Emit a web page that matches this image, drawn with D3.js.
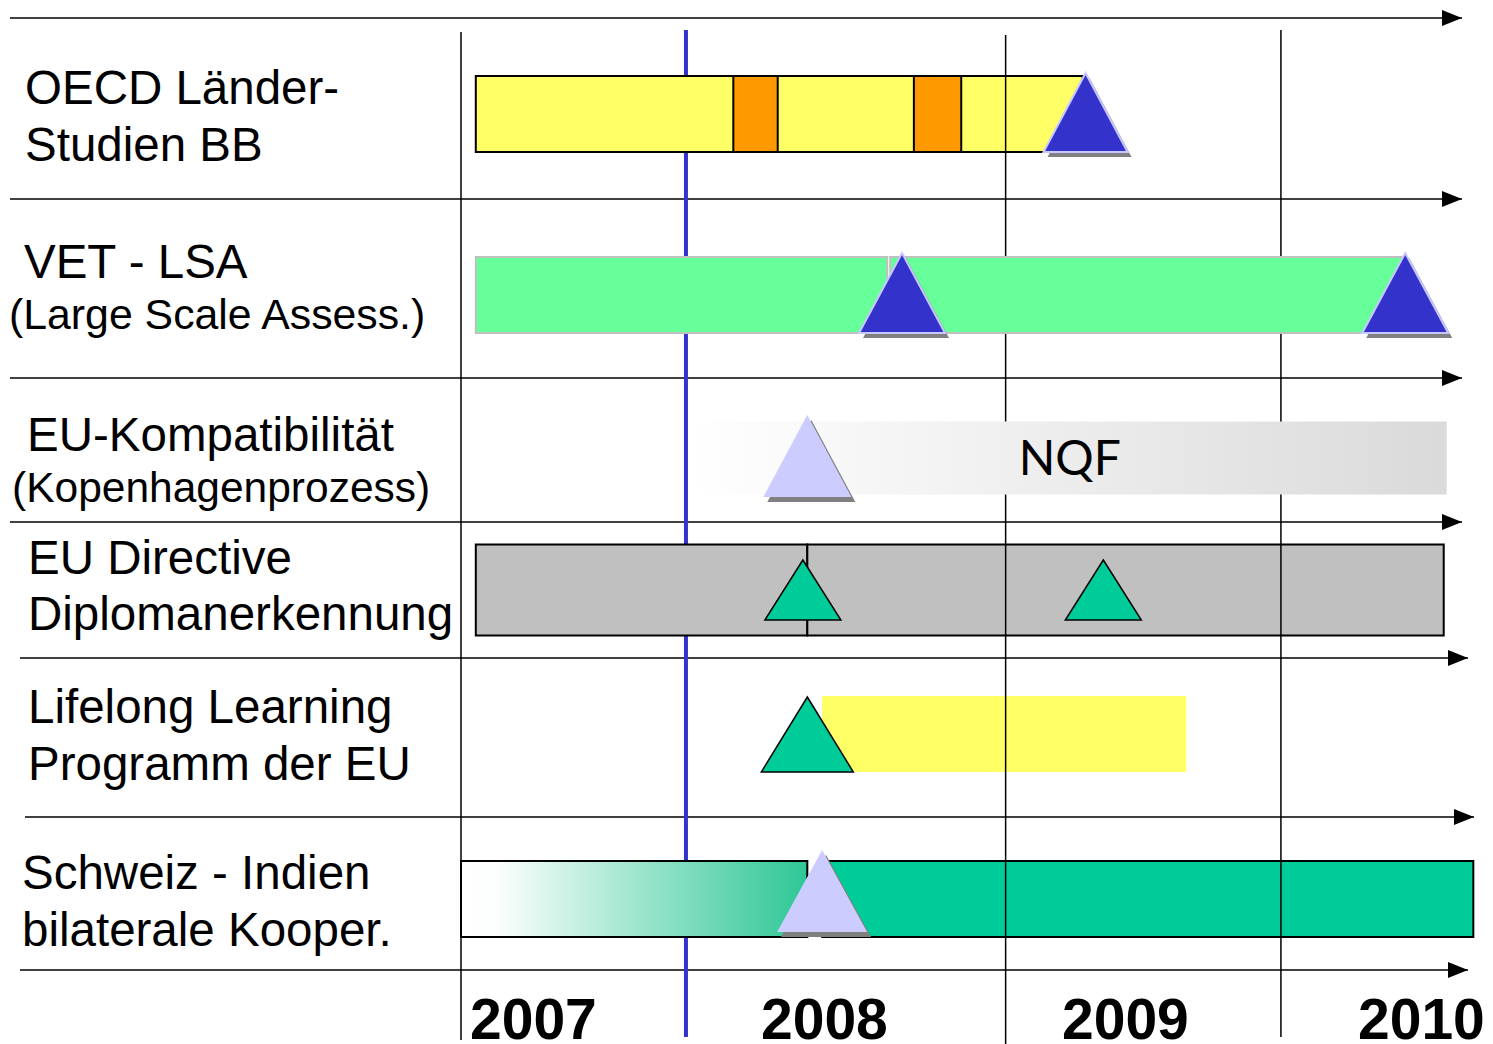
<!DOCTYPE html>
<html>
<head>
<meta charset="utf-8">
<script src="https://cdn.jsdelivr.net/npm/d3@7"></script>
<style>
  html, body { margin: 0; padding: 0; background: #fff; }
  svg { display: block; }
</style>
</head>
<body>
<svg id="chart" width="1493" height="1044"></svg>
<script>
// ---------------- DATA ----------------
const rows = ["oecd", "vet", "eukomp", "eudir", "llp", "chin"];
const rowLabels = [
  ["OECD Länder-", "Studien BB"],
  ["VET - LSA", "(Large Scale Assess.)"],
  ["EU-Kompatibilität", "(Kopenhagenprozess)"],
  ["EU Directive", "Diplomanerkennung"],
  ["Lifelong Learning", "Programm der EU"],
  ["Schweiz - Indien", "bilaterale Kooper."]
];
const years = [2007, 2008, 2009, 2010];
const gridLines = [2007.0, 2008.84, 2009.77];
const todayLine = 2007.76;

// time spans (in fractional years)
const tasks = [
  {row: "oecd",   start: 2007.05, end: 2009.10, kind: "yellow"},
  {row: "oecd",   start: 2007.92, end: 2008.07, kind: "orange"},
  {row: "oecd",   start: 2008.53, end: 2008.69, kind: "orange"},
  {row: "vet",    start: 2007.05, end: 2008.44, kind: "green"},
  {row: "vet",    start: 2008.45, end: 2010.19, kind: "green"},
  {row: "eukomp", start: 2007.77, end: 2010.33, kind: "greyFade", label: "NQF"},
  {row: "eudir",  start: 2007.05, end: 2008.17, kind: "grey"},
  {row: "eudir",  start: 2008.17, end: 2010.32, kind: "grey"},
  {row: "llp",    start: 2008.22, end: 2009.45, kind: "paleYellow"},
  {row: "chin",   start: 2007.00, end: 2008.17, kind: "tealFade"},
  {row: "chin",   start: 2008.22, end: 2010.42, kind: "teal"}
];
const milestones = [
  {row: "oecd",   t: 2009.11, kind: "blue"},
  {row: "vet",    t: 2008.49, kind: "blue"},
  {row: "vet",    t: 2010.19, kind: "blue"},
  {row: "eukomp", t: 2008.17, kind: "lilac"},
  {row: "eudir",  t: 2008.155, kind: "teal"},
  {row: "eudir",  t: 2009.17, kind: "teal"},
  {row: "llp",    t: 2008.17, kind: "teal"},
  {row: "chin",   t: 2008.22, kind: "lilac"}
];

// ---------------- LAYOUT ----------------
const svg = d3.select("#chart");
const x = d3.scaleLinear().domain([2007, 2010]).range([461, 1349]);

const rowCenter = d3.scaleOrdinal().domain(rows).range([114, 295, 458, 590, 734, 899]);
const barHeight = d3.scaleOrdinal().domain(rows).range([76, 76, 73, 91, 76, 76]);
// milestone: apex offset above center, base offset below center, half width
const msTop = d3.scaleOrdinal().domain(rows).range([41, 42, 43, 30, 37, 49]);
const msBot = d3.scaleOrdinal().domain(rows).range([38, 38, 39, 30, 38, 33]);
const msHalf = d3.scaleOrdinal().domain(rows).range([42, 43, 44, 38, 46, 45]);

const labelLine1 = d3.scaleOrdinal().domain(rows).range([104, 278, 451, 574, 723, 889]);
const labelLine2 = d3.scaleOrdinal().domain(rows).range([161, 329, 502, 630, 780, 946]);
const labelX1 = d3.scaleOrdinal().domain(rows).range([25, 24, 27, 28, 28, 22]);
const labelX2 = d3.scaleOrdinal().domain(rows).range([25, 9, 12, 28, 28, 22]);
const labelSize2 = d3.scaleOrdinal().domain(rows).range([47.5, 42.8, 42.5, 47.5, 47.5, 47.5]);

// separators (y, x start, x end)
const separators = [
  {y: 18,  x0: 10, x1: 1462},
  {y: 199, x0: 10, x1: 1462},
  {y: 378, x0: 10, x1: 1462},
  {y: 522, x0: 10, x1: 1462},
  {y: 658, x0: 20, x1: 1468},
  {y: 817, x0: 25, x1: 1474},
  {y: 970, x0: 20, x1: 1468}
];

const styles = {
  yellow:     {fill: "#ffff66", stroke: "#000", sw: 2},
  orange:     {fill: "#ff9900", stroke: "#000", sw: 2},
  green:      {fill: "#66ff99", stroke: "#c0c0c0", sw: 2},
  greyFade:   {fill: "url(#gFade)", stroke: "none", sw: 0},
  grey:       {fill: "#c0c0c0", stroke: "#000", sw: 2},
  paleYellow: {fill: "#ffff66", stroke: "none", sw: 0},
  tealFade:   {fill: "url(#tFade)", stroke: "#000", sw: 2},
  teal:       {fill: "#00cc99", stroke: "#000", sw: 2}
};
const msStyles = {
  blue:  {fill: "#3333cc", stroke: "#c8c8ff", sw: 2, shadow: true},
  lilac: {fill: "#ccccff", stroke: "none", sw: 0, shadow: true},
  teal:  {fill: "#00cc99", stroke: "#000", sw: 1.5, shadow: false}
};
// bars that sit above the vertical grid lines
const opaqueKinds = new Set(["green", "greyFade"]);

// ---------------- DEFS ----------------
const defs = svg.append("defs");
const g1 = defs.append("linearGradient").attr("id", "gFade");
g1.append("stop").attr("offset", "0%").attr("stop-color", "#ffffff");
g1.append("stop").attr("offset", "100%").attr("stop-color", "#dadada");
const g2 = defs.append("linearGradient").attr("id", "tFade");
g2.append("stop").attr("offset", "0%").attr("stop-color", "#ffffff");
g2.append("stop").attr("offset", "10%").attr("stop-color", "#fdfefe");
g2.append("stop").attr("offset", "100%").attr("stop-color", "#2ec795");
defs.append("marker").attr("id", "arrow").attr("viewBox", "0 0 20 16")
  .attr("refX", 20).attr("refY", 8).attr("markerWidth", 20).attr("markerHeight", 16)
  .attr("markerUnits", "userSpaceOnUse").attr("orient", "auto")
  .append("path").attr("d", "M0,0 L20,8 L0,16 Z").attr("fill", "#000");

// ---------------- DRAW ----------------
// separators
svg.append("g").selectAll("line").data(separators).join("line")
  .attr("x1", d => d.x0).attr("x2", d => d.x1)
  .attr("y1", d => d.y).attr("y2", d => d.y)
  .attr("stroke", "#000").attr("stroke-width", 1.5)
  .attr("marker-end", "url(#arrow)");

// today line (behind bars)
svg.append("line")
  .attr("x1", x(todayLine)).attr("x2", x(todayLine))
  .attr("y1", 30).attr("y2", 1037)
  .attr("stroke", "#3333cc").attr("stroke-width", 4);

function drawBars(sel, data) {
  sel.selectAll("rect").data(data).join("rect")
    .attr("x", d => x(d.start))
    .attr("y", d => rowCenter(d.row) - barHeight(d.row) / 2)
    .attr("width", d => x(d.end) - x(d.start))
    .attr("height", d => barHeight(d.row))
    .attr("fill", d => styles[d.kind].fill)
    .attr("stroke", d => styles[d.kind].stroke)
    .attr("stroke-width", d => styles[d.kind].sw);
}

// bars under the grid lines
drawBars(svg.append("g"), tasks.filter(d => !opaqueKinds.has(d.kind) && d.kind !== "orange"));
drawBars(svg.append("g"), tasks.filter(d => d.kind === "orange"));

// vertical grid lines
const gridY = [[32, 1040], [35, 1044], [30, 1037]];
svg.append("g").selectAll("line").data(gridLines).join("line")
  .attr("x1", d => x(d)).attr("x2", d => x(d))
  .attr("y1", (d, i) => gridY[i][0]).attr("y2", (d, i) => gridY[i][1])
  .attr("stroke", "#000").attr("stroke-width", 1.5);

// bars above the grid lines
drawBars(svg.append("g"), tasks.filter(d => opaqueKinds.has(d.kind)));

// bar labels
svg.append("g").selectAll("text").data(tasks.filter(d => d.label)).join("text")
  .attr("x", d => x((d.start + d.end) / 2) + 2)
  .attr("y", d => rowCenter(d.row) + 17)
  .attr("text-anchor", "middle")
  .attr("font-family", "Lato, 'Open Sans', sans-serif")
  .attr("font-size", 48)
  .attr("fill", "#000")
  .text(d => d.label);

// milestones
function triPath(d, dx, dy) {
  const cx = x(d.t) + dx, cy = rowCenter(d.row) + dy;
  const top = cy - msTop(d.row), bot = cy + msBot(d.row), hw = msHalf(d.row);
  return `M${cx},${top} L${cx + hw},${bot} L${cx - hw},${bot} Z`;
}
const msG = svg.append("g");
msG.selectAll("path.shadow").data(milestones.filter(d => msStyles[d.kind].shadow)).join("path")
  .attr("class", "shadow")
  .attr("d", d => triPath(d, 4, 5))
  .attr("fill", "#808080");
msG.selectAll("path.ms").data(milestones).join("path")
  .attr("class", "ms")
  .attr("d", d => triPath(d, 0, 0))
  .attr("fill", d => msStyles[d.kind].fill)
  .attr("stroke", d => msStyles[d.kind].stroke)
  .attr("stroke-width", d => msStyles[d.kind].sw)
  .attr("stroke-linejoin", "miter");

// row labels
const lab = svg.append("g")
  .attr("font-family", "'Liberation Sans', Arial, Helvetica, sans-serif")
  .attr("fill", "#000");
lab.selectAll("text.l1").data(rows).join("text")
  .attr("class", "l1")
  .attr("x", d => labelX1(d)).attr("y", d => labelLine1(d))
  .attr("font-size", 47.5)
  .text((d, i) => rowLabels[i][0]);
lab.selectAll("text.l2").data(rows).join("text")
  .attr("class", "l2")
  .attr("x", d => labelX2(d)).attr("y", d => labelLine2(d))
  .attr("font-size", d => labelSize2(d))
  .text((d, i) => rowLabels[i][1]);

// year labels
svg.append("g").selectAll("text").data(years).join("text")
  .attr("x", d => x(d) + 9 - (d === 2008 ? 5 : 0))
  .attr("y", 1039)
  .attr("font-family", "'Liberation Sans', Arial, Helvetica, sans-serif")
  .attr("font-weight", "bold")
  .attr("font-size", 57)
  .attr("fill", "#000")
  .text(d => d);
</script>
</body>
</html>
